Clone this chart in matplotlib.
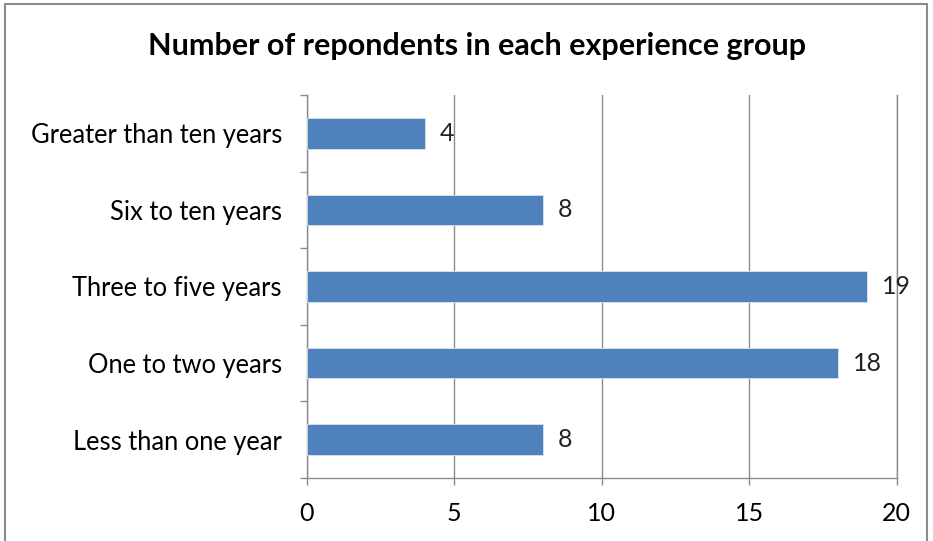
import numpy as np
import matplotlib
matplotlib.use("Agg")
import matplotlib.pyplot as plt
from matplotlib.patches import Rectangle

# data
groups = ["Less than one year", "One to two years", "Three to five years",
          "Six to ten years", "Greater than ten years"]
counts = [8, 18, 19, 8, 4]
x_ticks = [0, 5, 10, 15, 20]

bar_color = "#4F81BD"
grid_color = "#8C8C8C"

# Lato is close to Calibri in shape and width
plt.rcParams["font.family"] = ["Lato", "DejaVu Sans"]

fig = plt.figure(figsize=(9.33, 5.41), dpi=100)
ax = fig.add_axes([0.329, 0.1165, 0.632, 0.708])

y = np.arange(len(groups))
ax.barh(y, counts, height=0.40, color=bar_color, edgecolor="#D9E3F0", linewidth=0.6, zorder=3)

# data labels to the right of each bar
for yi, v in zip(y, counts):
    ax.annotate(str(v), (v, yi), xytext=(11, 0), textcoords="offset points",
                va="center", ha="left", fontsize=18, color="#222222", zorder=4)

ax.set_xlim(0, 20)
ax.set_ylim(-0.5, len(groups) - 0.5)
ax.set_xticks(x_ticks)
ax.set_xticklabels([str(t) for t in x_ticks], fontsize=18)
ax.set_yticks(y)
ax.set_yticklabels(groups, fontsize=18.4)
ax.set_yticks(np.arange(-0.5, len(groups)), minor=True)

ax.tick_params(axis="y", which="major", length=0, pad=18)
ax.tick_params(axis="y", which="minor", length=5, color=grid_color, width=1)
ax.tick_params(axis="x", length=5, color=grid_color, width=1, pad=12)

ax.grid(axis="x", color=grid_color, linewidth=1, zorder=0)
ax.spines["top"].set_visible(False)
for s in ["left", "bottom", "right"]:
    ax.spines[s].set_color(grid_color)
    ax.spines[s].set_linewidth(1)

fig.text(0.511, 0.915, "Number of repondents in each experience group",
         ha="center", va="center", fontsize=22, fontweight="bold")

# outer chart border
fig.patches.append(Rectangle((0.005, -0.02), 0.989, 1.012, transform=fig.transFigure,
                             fill=False, edgecolor="#8C8C8C", linewidth=1.5))

fig.savefig("out.png", dpi=100)
